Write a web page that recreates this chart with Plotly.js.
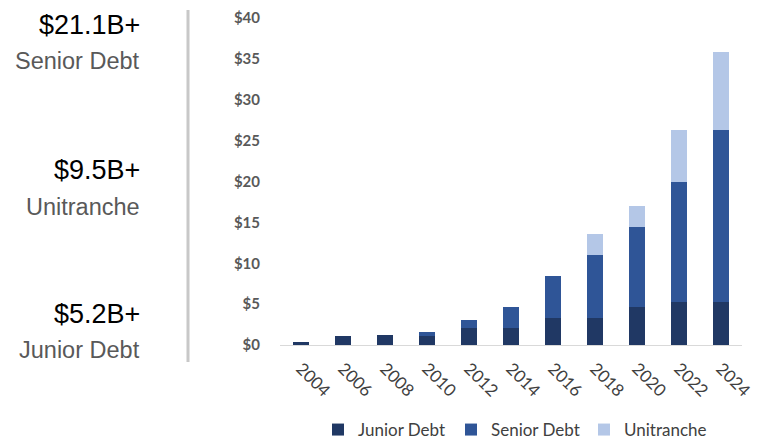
<!DOCTYPE html>
<html>
<head>
<meta charset="utf-8">
<script src="https://cdn.plot.ly/plotly-3.0.1.min.js"></script>
<style>html,body{margin:0;padding:0;background:#fff;}#chart{width:761px;height:439px;}</style>
</head>
<body>
<div id="chart"></div>
<script>
const years = ['2004','2006','2008','2010','2012','2014','2016','2018','2020','2022','2024'];
const juniorDebt = [0.4, 1.1, 1.2, 1.15, 2.1, 2.1, 3.3, 3.3, 4.6, 5.2, 5.2];
const seniorDebt = [0, 0, 0.05, 0.45, 0.9, 2.6, 5.1, 7.7, 9.8, 14.8, 21.1];
const unitranche = [0, 0, 0, 0, 0, 0, 0, 2.6, 2.6, 6.3, 9.5];
const seriesNames = ['Junior Debt', 'Senior Debt', 'Unitranche'];
const seriesColors = ['#203864', '#2F5597', '#B4C7E7'];
const yTickVals = [0, 5, 10, 15, 20, 25, 30, 35, 40];
const yTickText = ['$0', '$5', '$10', '$15', '$20', '$25', '$30', '$35', '$40'];
const sideFigures = ['$21.1B+', '$9.5B+', '$5.2B+'];
const sideLabels = ['Senior Debt', 'Unitranche', 'Junior Debt'];

const L = 280, R = 742, T = 18, B = 345, W = 761, H = 439;
const px = x => (x - L) / (R - L);
const py = y => (B - y) / (B - T);

const traces = [juniorDebt, seniorDebt, unitranche].map((vals, i) => ({
  type: 'bar', x: years, y: vals, name: seriesNames[i],
  marker: {color: seriesColors[i], line: {width: 0}},
  hoverinfo: 'skip'
}));

const figY = [25, 170, 314];
const labY = [61, 207, 350];
const annotations = [];
sideFigures.forEach((t, i) => {
  annotations.push({xref: 'paper', yref: 'paper', x: px(142), y: py(figY[i]), xanchor: 'right', yanchor: 'middle',
    text: t, showarrow: false, font: {family: 'Liberation Sans, Arial, sans-serif', size: 27, color: '#000000'}});
  annotations.push({xref: 'paper', yref: 'paper', x: px(142), y: py(labY[i]), xanchor: 'right', yanchor: 'middle',
    text: sideLabels[i], showarrow: false, font: {family: 'Liberation Sans, Arial, sans-serif', size: 23.5, color: '#595959'}});
});

const layout = {
  width: W, height: H,
  margin: {l: L, r: W - R, t: T, b: H - B, pad: 0, autoexpand: false},
  paper_bgcolor: '#ffffff', plot_bgcolor: '#ffffff',
  barmode: 'stack', bargap: 0.6,
  showlegend: true,
  legend: {orientation: 'h', xref: 'container', yref: 'container', x: 318 / W, xanchor: 'left', y: 1 - 430 / H, yanchor: 'middle',
    font: {family: 'Lato, sans-serif', size: 17, color: '#404040'}, entrywidth: 88, traceorder: 'normal', itemwidth: 30},
  xaxis: {type: 'category', automargin: false, showgrid: false, zeroline: false, showline: true, linecolor: '#d9d9d9', linewidth: 1,
    tickangle: 45, ticks: 'outside', ticklen: 6, tickcolor: 'rgba(0,0,0,0)',
    tickfont: {family: 'Lato, sans-serif', size: 17, color: '#404040'}},
  yaxis: {range: [0, 40], automargin: false, tickmode: 'array', tickvals: yTickVals, ticktext: yTickText, showgrid: false, zeroline: false, showline: false,
    ticks: 'outside', ticklen: 16, tickcolor: 'rgba(0,0,0,0)',
    tickfont: {family: 'Lato, sans-serif', size: 15, color: '#595959', weight: 700}},
  shapes: [{type: 'line', xref: 'paper', yref: 'paper', x0: px(188), x1: px(188), y0: py(10), y1: py(362),
    line: {color: '#c8c8c8', width: 3}}],
  annotations: annotations
};

Plotly.newPlot('chart', traces, layout, {displayModeBar: false, staticPlot: true});
</script>
</body>
</html>
